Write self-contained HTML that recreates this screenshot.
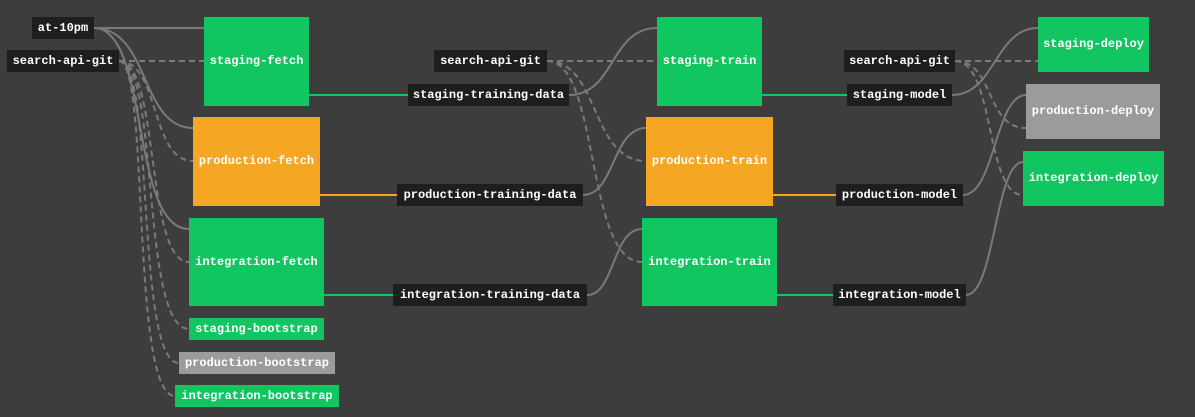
<!DOCTYPE html>
<html><head><meta charset="utf-8"><style>
html,body{margin:0;padding:0;background:#3d3d3d;width:1195px;height:417px;overflow:hidden}
svg{display:block}
text{font-family:"Liberation Mono","DejaVu Sans Mono",monospace;font-size:12px;font-weight:bold;fill:#fff;text-anchor:middle;dominant-baseline:central}
.g{stroke:#7a7a7a;stroke-width:2;fill:none}
.d{stroke:#7a7a7a;stroke-width:2;fill:none;stroke-dasharray:6,4}
</style></head><body>
<svg width="1195" height="417" viewBox="0 0 1195 417">
<rect width="1195" height="417" fill="#3d3d3d"/>
<!-- edges left -->
<path class="g" d="M94,28 L204,28"/>
<path class="g" d="M94,28 C150,28 140,128 193,128"/>
<path class="g" d="M94,28 C150,28 130,229 189,229"/>
<path class="d" d="M119,61 L204,61"/>
<path class="d" d="M119,61 C160,61 150,161 193,161"/>
<path class="d" d="M119,61 C160,61 145,262 189,262"/>
<path class="d" d="M119,61 C160,61 140,329 189,329"/>
<path class="d" d="M119,61 C155,61 135,363 179,363"/>
<path class="d" d="M119,61 C150,61 130,396 175,396"/>
<path stroke="#11c560" stroke-width="2" d="M309,95 L408,95"/>
<path stroke="#f5a623" stroke-width="2" d="M320,195 L397,195"/>
<path stroke="#11c560" stroke-width="2" d="M324,295 L393,295"/>
<!-- mid -->
<path class="d" d="M547,61 L657,61"/>
<path class="d" d="M547,61 C600,61 590,161 646,161"/>
<path class="d" d="M547,61 C600,61 585,262 642,262"/>
<path class="g" d="M569,95 C615,95 610,28 657,28"/>
<path class="g" d="M583,195 C615,195 612,128 646,128"/>
<path class="g" d="M587,295 C615,295 612,229 642,229"/>
<path stroke="#11c560" stroke-width="2" d="M762,95 L847,95"/>
<path stroke="#f5a623" stroke-width="2" d="M773,195 L836,195"/>
<path stroke="#11c560" stroke-width="2" d="M777,295 L833,295"/>
<!-- right -->
<path class="d" d="M955,61 L1038,61"/>
<path class="d" d="M955,61 C995,61 985,128 1026,128"/>
<path class="d" d="M955,61 C995,61 985,195 1023,195"/>
<path class="g" d="M952,95 C995,95 995,28 1038,28"/>
<path class="g" d="M963,195 C995,195 995,95 1026,95"/>
<path class="g" d="M966,295 C995,295 995,162 1023,162"/>
<!-- nodes -->
<rect x="32" y="17" width="62" height="22" fill="#1e1e1e"/><text x="63" y="28">at-10pm</text>
<rect x="7" y="50" width="112" height="22" fill="#1e1e1e"/><text x="63" y="61">search-api-git</text>
<rect x="204" y="17" width="105" height="89" fill="#11c560"/><text x="256.5" y="61">staging-fetch</text>
<rect x="193" y="117" width="127" height="89" fill="#f5a623"/><text x="256.5" y="161">production-fetch</text>
<rect x="189" y="218" width="135" height="88" fill="#11c560"/><text x="256.5" y="262">integration-fetch</text>
<rect x="189" y="318" width="135" height="22" fill="#11c560"/><text x="256.5" y="329">staging-bootstrap</text>
<rect x="179" y="352" width="156" height="22" fill="#9b9b9b"/><text x="257" y="363">production-bootstrap</text>
<rect x="175" y="385" width="164" height="22" fill="#11c560"/><text x="257" y="396">integration-bootstrap</text>
<rect x="434" y="50" width="113" height="22" fill="#1e1e1e"/><text x="490.5" y="61">search-api-git</text>
<rect x="408" y="84" width="161" height="22" fill="#1e1e1e"/><text x="488.5" y="95">staging-training-data</text>
<rect x="397" y="184" width="186" height="22" fill="#1e1e1e"/><text x="490" y="195">production-training-data</text>
<rect x="393" y="284" width="194" height="22" fill="#1e1e1e"/><text x="490" y="295">integration-training-data</text>
<rect x="657" y="17" width="105" height="89" fill="#11c560"/><text x="709.5" y="61">staging-train</text>
<rect x="646" y="117" width="127" height="89" fill="#f5a623"/><text x="709.5" y="161">production-train</text>
<rect x="642" y="218" width="135" height="88" fill="#11c560"/><text x="709.5" y="262">integration-train</text>
<rect x="844" y="50" width="111" height="22" fill="#1e1e1e"/><text x="899.5" y="61">search-api-git</text>
<rect x="847" y="84" width="105" height="22" fill="#1e1e1e"/><text x="899.5" y="95">staging-model</text>
<rect x="836" y="184" width="127" height="22" fill="#1e1e1e"/><text x="899.5" y="195">production-model</text>
<rect x="833" y="284" width="133" height="22" fill="#1e1e1e"/><text x="899.5" y="295">integration-model</text>
<rect x="1038" y="17" width="111" height="55" fill="#11c560"/><text x="1093.5" y="44">staging-deploy</text>
<rect x="1026" y="84" width="134" height="55" fill="#9b9b9b"/><text x="1093" y="111">production-deploy</text>
<rect x="1023" y="151" width="141" height="55" fill="#11c560"/><text x="1093.5" y="178">integration-deploy</text>
</svg>
</body></html>
